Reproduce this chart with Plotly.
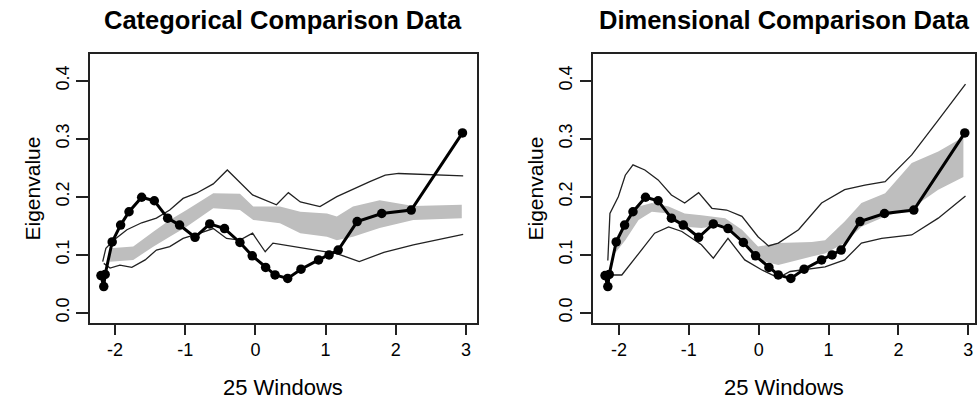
import plotly.graph_objects as go

# Observed eigenvalues (black line with dots), same in both panels
obs_x = [-2.2, -2.16, -2.14, -2.04, -1.92, -1.80, -1.62, -1.44, -1.25, -1.08, -0.86, -0.65, -0.44,
         -0.22, -0.045, 0.146, 0.28, 0.46, 0.65, 0.90, 1.05, 1.18, 1.45, 1.80, 2.22, 2.95]
obs_y = [0.064, 0.045, 0.066, 0.122, 0.151, 0.174, 0.199, 0.193, 0.163, 0.151, 0.130, 0.153, 0.145,
         0.121, 0.098, 0.078, 0.065, 0.059, 0.075, 0.091, 0.0995, 0.108, 0.157, 0.171, 0.177, 0.310]

# Categorical comparison data
cat_up_x = [-2.175, -2.13, -2.02, -1.83, -1.62, -1.41, -1.22, -1.03, -0.84, -0.60, -0.40, -0.04,
            0.30, 0.47, 0.64, 0.92, 1.16, 1.39, 1.63, 1.85, 2.04, 2.96]
cat_up_y = [0.088, 0.111, 0.125, 0.143, 0.155, 0.163, 0.177, 0.197, 0.206, 0.222, 0.246, 0.203,
            0.186, 0.207, 0.191, 0.183, 0.200, 0.213, 0.226, 0.237, 0.240, 0.236]
cat_lo_x = [-2.16, -2.07, -1.93, -1.76, -1.57, -1.41, -1.22, -1.03, -0.79, -0.60, -0.41, -0.22,
            -0.04, 0.14, 0.25, 0.54, 0.90, 1.16, 1.48, 1.83, 2.25, 2.96]
cat_lo_y = [0.085, 0.077, 0.082, 0.078, 0.091, 0.108, 0.114, 0.128, 0.137, 0.145, 0.128, 0.125,
            0.137, 0.105, 0.120, 0.114, 0.107, 0.102, 0.088, 0.104, 0.117, 0.135]
cat_band_x = [-2.07, -1.74, -1.45, -1.22, -0.98, -0.60, -0.22, -0.03, 0.35, 0.64, 1.02, 1.16,
              1.39, 1.77, 2.25, 2.94]
cat_band_hi = [0.111, 0.114, 0.140, 0.160, 0.177, 0.206, 0.205, 0.183, 0.183, 0.174, 0.171, 0.166,
               0.183, 0.194, 0.184, 0.186]
cat_band_lo = [0.088, 0.091, 0.114, 0.131, 0.148, 0.180, 0.177, 0.160, 0.154, 0.137, 0.131, 0.125,
               0.131, 0.146, 0.160, 0.163]

# Dimensional comparison data
dim_up_x = [-2.16, -2.13, -2.01, -1.91, -1.80, -1.63, -1.44, -1.25, -1.06, -0.86, -0.67, -0.46,
            -0.24, -0.01, 0.14, 0.28, 0.57, 0.90, 1.23, 1.52, 1.81, 2.19, 2.57, 2.96]
dim_up_y = [0.090, 0.171, 0.200, 0.237, 0.255, 0.246, 0.229, 0.203, 0.189, 0.207, 0.180, 0.177,
            0.166, 0.131, 0.115, 0.120, 0.143, 0.189, 0.212, 0.220, 0.226, 0.272, 0.332, 0.394]
dim_lo_x = [-2.15, -1.96, -1.75, -1.49, -1.29, -1.10, -0.82, -0.65, -0.44, -0.20, 0.04, 0.28,
            0.45, 0.66, 0.95, 1.23, 1.47, 1.76, 2.19, 2.57, 2.96]
dim_lo_y = [0.065, 0.065, 0.097, 0.137, 0.148, 0.140, 0.117, 0.094, 0.128, 0.091, 0.074, 0.060,
            0.071, 0.074, 0.079, 0.091, 0.120, 0.128, 0.134, 0.163, 0.201]
dim_band_x = [-2.06, -1.91, -1.72, -1.53, -1.29, -1.06, -0.82, -0.48, -0.24, -0.01, 0.28, 0.76,
              0.95, 1.23, 1.47, 1.81, 2.19, 2.57, 2.93]
dim_band_hi = [0.125, 0.157, 0.183, 0.189, 0.183, 0.171, 0.168, 0.163, 0.143, 0.114, 0.120, 0.122,
               0.125, 0.157, 0.189, 0.206, 0.258, 0.278, 0.303]
dim_band_lo = [0.102, 0.125, 0.160, 0.174, 0.171, 0.148, 0.146, 0.151, 0.120, 0.091, 0.082, 0.097,
               0.102, 0.120, 0.148, 0.166, 0.180, 0.212, 0.234]

titles = ["Categorical Comparison Data", "Dimensional Comparison Data"]
x_ticks = [-2, -1, 0, 1, 2, 3]
y_ticks = [0.0, 0.1, 0.2, 0.3, 0.4]
x_title = "25 Windows"
y_title = "Eigenvalue"

FONT = "Liberation Sans, Arial, sans-serif"
BAND = "#bebebe"

fig = go.Figure()

panels = [
    (cat_band_x, cat_band_hi, cat_band_lo, cat_up_x, cat_up_y, cat_lo_x, cat_lo_y, "x", "y"),
    (dim_band_x, dim_band_hi, dim_band_lo, dim_up_x, dim_up_y, dim_lo_x, dim_lo_y, "x2", "y2"),
]
for bx, bhi, blo, ux, uy, lx, ly, xa, ya in panels:
    fig.add_trace(go.Scatter(x=bx + bx[::-1], y=bhi + blo[::-1], fill="toself", fillcolor=BAND,
                             line=dict(width=0, color=BAND), mode="lines", xaxis=xa, yaxis=ya,
                             showlegend=False, hoverinfo="skip"))
    fig.add_trace(go.Scatter(x=ux, y=uy, mode="lines", line=dict(color="#222", width=1.3),
                             xaxis=xa, yaxis=ya, showlegend=False))
    fig.add_trace(go.Scatter(x=lx, y=ly, mode="lines", line=dict(color="#222", width=1.3),
                             xaxis=xa, yaxis=ya, showlegend=False))
    fig.add_trace(go.Scatter(x=obs_x, y=obs_y, mode="lines+markers",
                             line=dict(color="black", width=3),
                             marker=dict(color="black", size=9.5),
                             xaxis=xa, yaxis=ya, showlegend=False))

W, H = 979, 400
xdoms = [(90 / W, 477 / W), (593.3 / W, 975 / W)]
xranges = [[-2.356, 3.157], [-2.368, 3.096]]
ydom = ((400 - 323) / H, (400 - 54) / H)
yrange = [-0.0178, 0.446]

axis_common = dict(showline=True, linecolor="#222", linewidth=1.5, mirror=True,
                   ticks="outside", tickcolor="#222", tickwidth=1.5, showgrid=False,
                   zeroline=False, tickfont=dict(family=FONT, size=18, color="black"))

layout = dict(width=W, height=H, margin=dict(l=0, r=0, t=0, b=0),
              plot_bgcolor="white", paper_bgcolor="white", showlegend=False)
annotations = []
for i in range(2):
    xs = "" if i == 0 else "2"
    layout["xaxis" + xs] = dict(domain=list(xdoms[i]), range=xranges[i], tickvals=x_ticks,
                                ticktext=[str(v) for v in x_ticks], ticklen=10,
                                anchor="y" + xs, **axis_common)
    layout["yaxis" + xs] = dict(domain=list(ydom), range=yrange, tickvals=y_ticks,
                                tickformat=".1f", tickangle=-90, ticklen=12,
                                anchor="x" + xs, **axis_common)
    cx = (xdoms[i][0] + xdoms[i][1]) / 2
    annotations.append(dict(text="<b>" + titles[i] + "</b>", x=cx, y=1 - 20 / H, xref="paper",
                            yref="paper", showarrow=False, xanchor="center", yanchor="middle",
                            font=dict(family=FONT, size=25.5, color="black")))
    annotations.append(dict(text=x_title, x=cx, y=1 - 387 / H, xref="paper", yref="paper",
                            showarrow=False, xanchor="center", yanchor="middle",
                            font=dict(family=FONT, size=22, color="black")))
    ylx = (32 if i == 0 else 535) / W
    annotations.append(dict(text=y_title, x=ylx, y=(ydom[0] + ydom[1]) / 2, xref="paper",
                            yref="paper", showarrow=False, xanchor="center", yanchor="middle",
                            textangle=-90, font=dict(family=FONT, size=21, color="black")))
layout["annotations"] = annotations
fig.update_layout(**layout)

fig.write_html("out.html", config={"displayModeBar": False},
               post_script="document.body.style.margin='0';document.body.style.overflow='hidden';")
